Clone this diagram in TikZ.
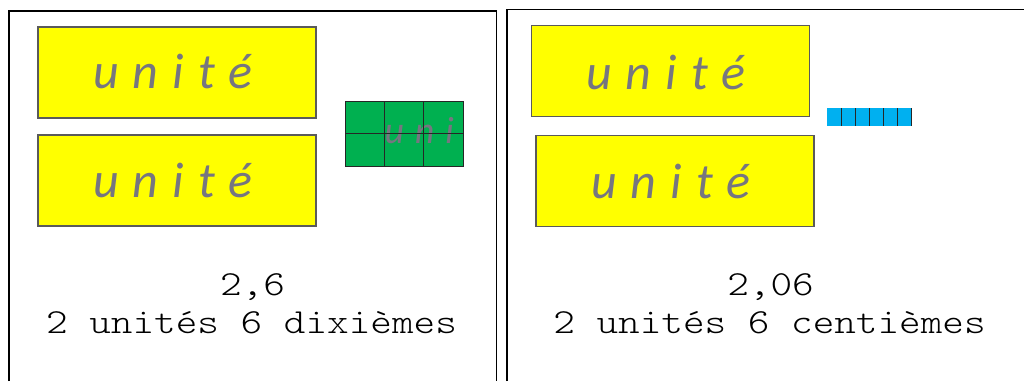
\documentclass[tikz,border=0pt]{standalone}
\usepackage{fontspec}
\setmonofont[FakeStretch=1.17]{Latin Modern Mono Light}
\newfontfamily\unitfont[LetterSpace=28]{Carlito}
\definecolor{ugray}{RGB}{118,118,128}
\definecolor{yfill}{RGB}{255,255,0}
\definecolor{ygreen}{RGB}{0,176,80}
\definecolor{yblue}{RGB}{0,176,240}
\definecolor{boxedge}{RGB}{90,90,90}
\tikzset{
  frameline/.style={line width=1.6pt, black},
  ybox/.style={draw=boxedge, fill=yfill, line width=1.2pt, minimum width=278pt, minimum height=91pt, inner sep=0pt, outer sep=0pt},
  utext/.style={text=ugray, font=\unitfont\itshape\fontsize{50}{50}\selectfont, inner sep=0pt, anchor=base west},
  usmall/.style={text=ugray, font=\unitfont\itshape\fontsize{38}{38}\selectfont, inner sep=0pt, anchor=base west},
  mtext/.style={font=\ttfamily\fontsize{35.2}{35.2}\selectfont, inner sep=0pt, anchor=base},
  gridline/.style={line width=0.9pt, black!85},
}
\begin{document}
\begin{tikzpicture}[x=1pt,y=-1pt]
\useasboundingbox (0,0) rectangle (1024,381);
\fill[white] (0,0) rectangle (1024,381);
% frames
\coordinate (lfbl) at (9,381);
\coordinate (lftl) at (9,11);
\coordinate (lftr) at (496.5,11);
\coordinate (lfbr) at (496.5,381);
\draw[frameline] (lfbl) -- (lftl) -- (lftr) -- (lfbr);
\coordinate (rfbl) at (507,381);
\coordinate (rftl) at (507,9.5);
\coordinate (rftr) at (1024,9.5);
\draw[frameline] (rfbl) -- (rftl) -- (rftr);
% left panel yellow boxes
\node[ybox] (ya) at (177,72.5) {};
\node[ybox] (yb) at (177,180.5) {};
\node[utext] (ta) at (93,88.5) {unité};
\node[utext] (tb) at (93,197.5) {unité};
% green tenths
\fill[ygreen] (345,101) rectangle (463.3,166);
\begin{scope}
\clip (345,101) rectangle (463.3,166);
\node[usmall] (tg) at (384.5,143) {unité};
\end{scope}
\draw[gridline] (345,101) rectangle (463.3,166);
\draw[gridline] (384.4,101) -- (384.4,166);
\draw[gridline] (423.9,101) -- (423.9,166);
\draw[gridline] (345,133.5) -- (463.3,133.5);
% left texts
\node[mtext] (na) at (252.5,295) {2,6};
\node[mtext] (da) at (251.5,333) {2 unités 6 dixièmes};
% right panel yellow boxes
\node[ybox] (yc) at (670.5,71) {};
\node[ybox] (yd) at (675,181) {};
\node[utext] (tc) at (586,89.5) {unité};
\node[utext] (td) at (591,198.5) {unité};
% blue hundredths
\fill[yblue] (827.3,108.3) rectangle (911.7,125.7);
\foreach \k in {1,...,6} {
  \draw[gridline] ({827.3+14.07*\k},108.3) -- ({827.3+14.07*\k},125.7);
}
% right texts
\node[mtext] (nb) at (770.5,295) {2,06};
\node[mtext] (db) at (769.5,333) {2 unités 6 centièmes};
\end{tikzpicture}
\end{document}
